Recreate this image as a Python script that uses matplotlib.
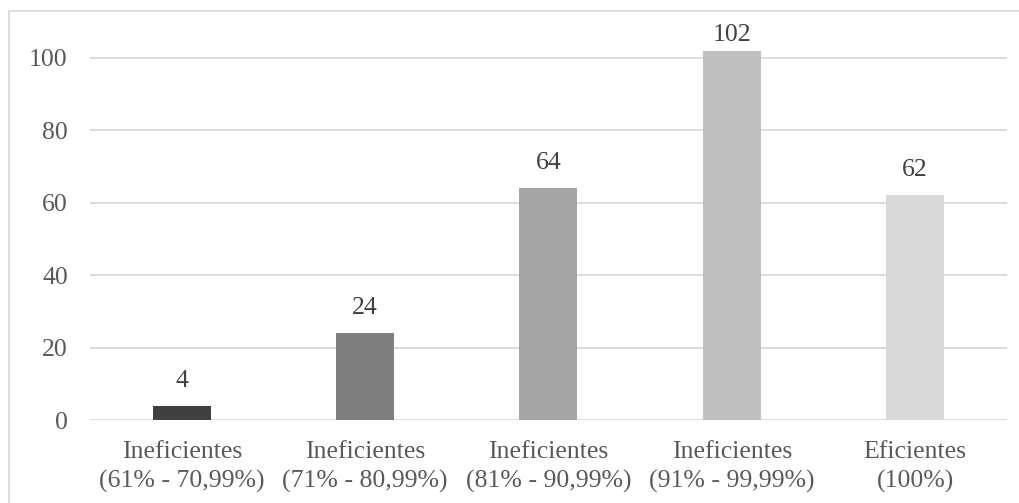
import matplotlib.pyplot as plt
from matplotlib.patches import Rectangle

categories = [
    "Ineficientes\n(61% - 70,99%)",
    "Ineficientes\n(71% - 80,99%)",
    "Ineficientes\n(81% - 90,99%)",
    "Ineficientes\n(91% - 99,99%)",
    "Eficientes\n(100%)",
]
counts = [4, 24, 64, 102, 62]
bar_colors = ["#404040", "#7f7f7f", "#a5a5a5", "#bfbfbf", "#d9d9d9"]
y_ticks = [0, 20, 40, 60, 80, 100]

plt.rcParams["font.family"] = ["Liberation Serif", "DejaVu Serif"]

fig = plt.figure(figsize=(10.19, 5.03), dpi=100)
ax = fig.add_axes([0.0883, 0.165, 0.8997, 0.792])

x = range(len(categories))
bars = ax.bar(x, counts, color=bar_colors, width=0.317, zorder=3)

# value labels sit above each bar but stay inside the plot area
for rect, val in zip(bars, counts):
    ax.text(rect.get_x() + rect.get_width() / 2, min(val + 6.9, 106.2), str(val),
            ha="center", va="center", fontsize=18.5, color="#404040")

ax.set_xlim(-0.5, len(categories) - 0.5)
ax.set_ylim(0, 110)
ax.set_yticks(y_ticks)
ax.set_xticks(list(x))
ax.set_xticklabels(categories, linespacing=1.4)
ax.tick_params(axis="y", length=0, pad=16, labelsize=18.5, labelcolor="#595959")
ax.tick_params(axis="x", length=0, pad=15, labelsize=18.5, labelcolor="#595959")
ax.grid(axis="y", color="#d9d9d9", linewidth=1.3, zorder=0)
for s in ax.spines.values():
    s.set_visible(False)

# light frame around the whole chart
fig.patches.append(Rectangle((9 / 1019, -0.01), 1.02, (503 - 11) / 503 + 0.01,
                             transform=fig.transFigure, fill=False,
                             edgecolor="#d9d9d9", linewidth=1.3))

fig.savefig("out.png", dpi=100)
